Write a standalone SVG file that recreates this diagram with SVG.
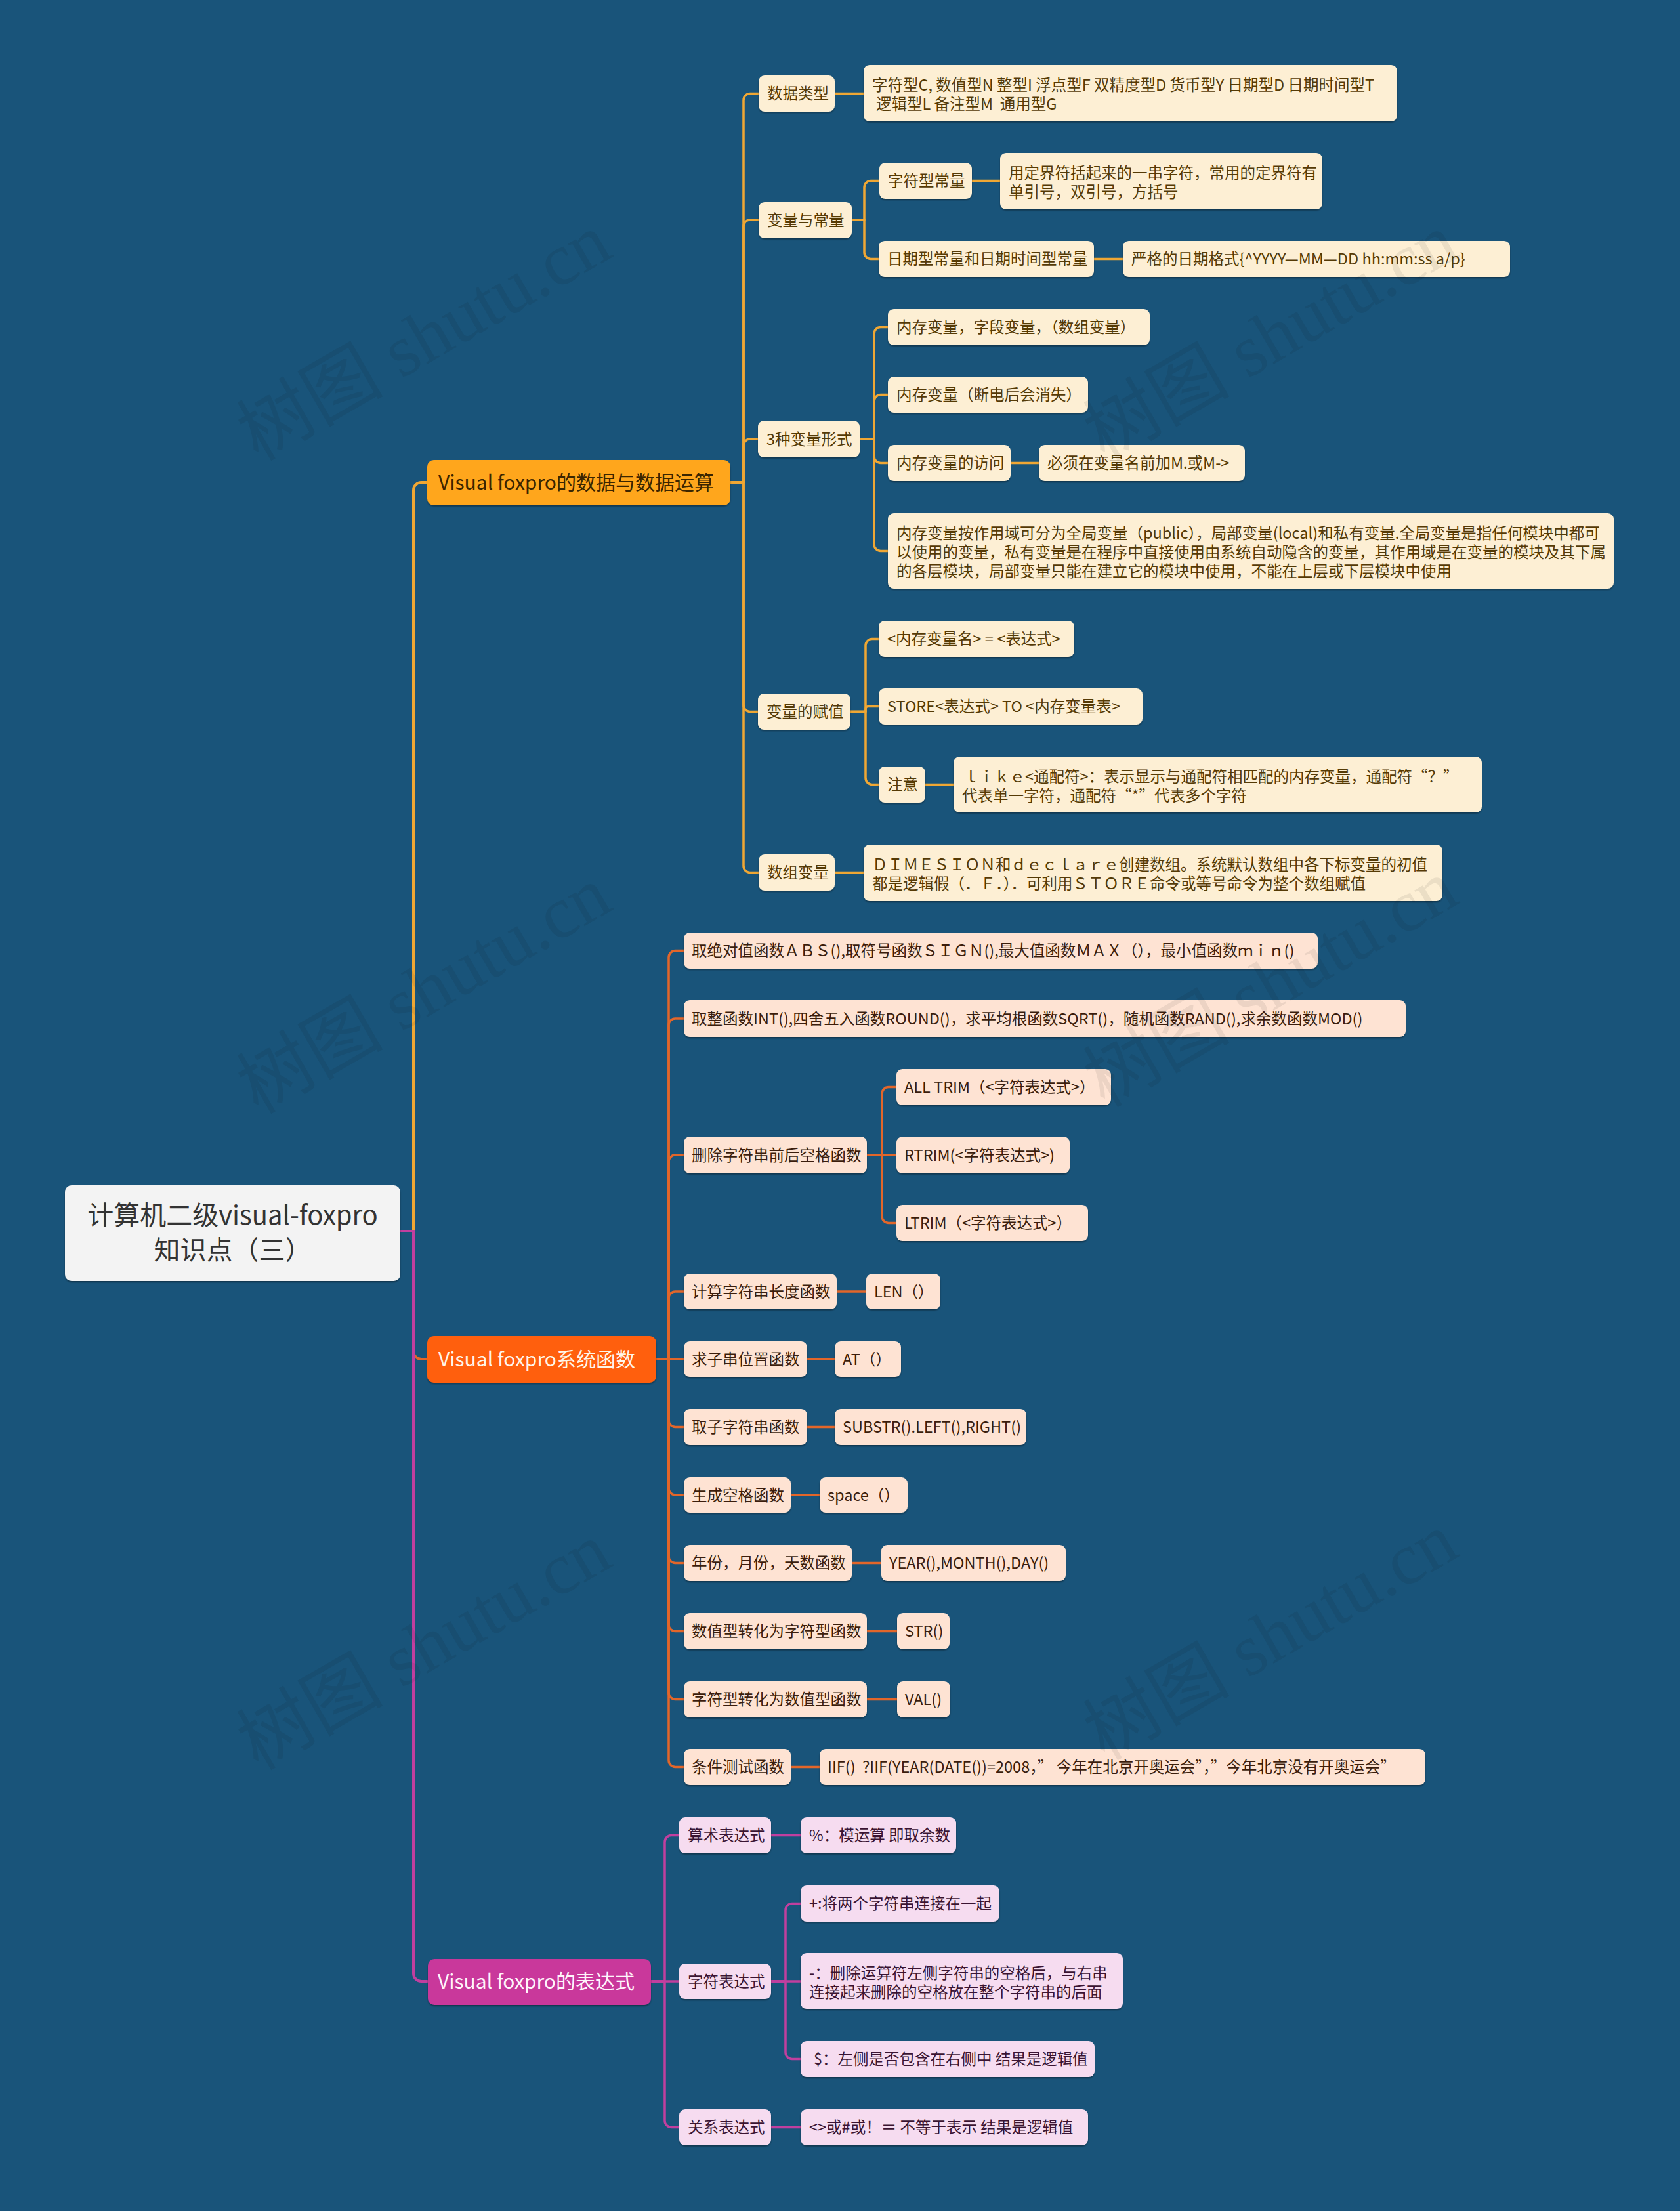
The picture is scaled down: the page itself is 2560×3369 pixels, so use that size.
<svg xmlns="http://www.w3.org/2000/svg" width="2560" height="3369" viewBox="0 0 2560 3369">
<defs>
<filter id="sh" x="-5%" y="-20%" width="110%" height="150%"><feDropShadow dx="0" dy="2" stdDeviation="1.2" flood-color="#000" flood-opacity="0.35"/></filter>
</defs>
<style>
text{font-family:"Noto Sans CJK SC","Liberation Sans",sans-serif}
.t{font-size:23.5px}
.ta{fill:#553a05}.tb{fill:#3b1d0c}.tc{fill:#3a1432}
.ra{fill:#FDEFD4}.rb{fill:#FEE3D3}.rc{fill:#F6DCF0}
rect{filter:url(#sh)}
.ln{fill:none;stroke-width:3.5;stroke-linecap:round;stroke-linejoin:round}
.l1{fill:none;stroke-width:4;stroke-linecap:round}
.la{stroke:#EFA734}.lb{stroke:#E2662A}.lc{stroke:#C13F9F}
.wm{font-family:"Liberation Serif","Noto Sans CJK SC",serif;font-size:112px;fill:#141414;fill-opacity:0.075}
</style>
<rect x="0" y="0" width="2560" height="3369" fill="#19547A" style="filter:none"/>
<g id="connectors">
<path class="l1 la" d="M610 1876 H630 V747 A12 12 0 0 1 642 735 H651"/>
<path class="l1 lb" d="M610 1876 H630 V2059 A12 12 0 0 0 642 2071 H651"/>
<path class="l1 lc" d="M610 1876 H630 V3007 A12 12 0 0 0 642 3019 H651"/>
<g class="ln la">
<path d="M1113 735 H1133 V152.5 A10 10 0 0 1 1143 142.5 H1156"/>
<path d="M1113 735 H1133 V345 A10 10 0 0 1 1143 335 H1156"/>
<path d="M1113 735 H1133 V679 A10 10 0 0 1 1143 669 H1155"/>
<path d="M1113 735 H1133 V1074.5 A10 10 0 0 0 1143 1084.5 H1155"/>
<path d="M1113 735 H1133 V1319.5 A10 10 0 0 0 1143 1329.5 H1156"/>
<path d="M1272 142.5 H1316"/>
<path d="M1298 335 H1317 V285.5 A10 10 0 0 1 1327 275.5 H1340"/>
<path d="M1298 335 H1317 V384.5 A10 10 0 0 0 1327 394.5 H1339"/>
<path d="M1481 275.5 H1524"/>
<path d="M1667 394.5 H1711"/>
<path d="M1310 669 H1332 V508.5 A10 10 0 0 1 1342 498.5 H1353"/>
<path d="M1310 669 H1332 V611.5 A10 10 0 0 1 1342 601.5 H1353"/>
<path d="M1310 669 H1332 V695.5 A10 10 0 0 0 1342 705.5 H1353"/>
<path d="M1310 669 H1332 V829.5 A10 10 0 0 0 1342 839.5 H1353"/>
<path d="M1540 705.5 H1583"/>
<path d="M1296 1084.5 H1319 V983.5 A10 10 0 0 1 1329 973.5 H1339"/>
<path d="M1296 1084.5 H1319 V1080.5 A4 4 0 0 1 1323 1076.5 H1339"/>
<path d="M1296 1084.5 H1319 V1185.5 A10 10 0 0 0 1329 1195.5 H1339"/>
<path d="M1410 1195.5 H1453"/>
<path d="M1272 1329.5 H1316"/>
</g>
<g class="ln lb">
<path d="M1000 2071 H1019 V1458.5 A10 10 0 0 1 1029 1448.5 H1042"/>
<path d="M1000 2071 H1019 V1562 A10 10 0 0 1 1029 1552 H1042"/>
<path d="M1000 2071 H1019 V1770 A10 10 0 0 1 1029 1760 H1042"/>
<path d="M1000 2071 H1019 V1978 A10 10 0 0 1 1029 1968 H1042"/>
<path d="M1000 2071 H1042"/>
<path d="M1000 2071 H1019 V2164.5 A10 10 0 0 0 1029 2174.5 H1042"/>
<path d="M1000 2071 H1019 V2268 A10 10 0 0 0 1029 2278 H1042"/>
<path d="M1000 2071 H1019 V2371.5 A10 10 0 0 0 1029 2381.5 H1042"/>
<path d="M1000 2071 H1019 V2475.5 A10 10 0 0 0 1029 2485.5 H1042"/>
<path d="M1000 2071 H1019 V2579.5 A10 10 0 0 0 1029 2589.5 H1042"/>
<path d="M1000 2071 H1019 V2682.5 A10 10 0 0 0 1029 2692.5 H1042"/>
<path d="M1321 1760 H1344 V1666.5 A10 10 0 0 1 1354 1656.5 H1366"/>
<path d="M1321 1760 H1366"/>
<path d="M1321 1760 H1344 V1853.5 A10 10 0 0 0 1354 1863.5 H1366"/>
<path d="M1275 1968 H1320"/>
<path d="M1230 2071 H1272"/>
<path d="M1230 2174.5 H1272"/>
<path d="M1205 2278 H1249"/>
<path d="M1298 2381.5 H1343"/>
<path d="M1321 2485.5 H1367"/>
<path d="M1321 2589.5 H1367"/>
<path d="M1205 2692.5 H1249"/>
</g>
<g class="ln lc">
<path d="M992 3019 H1013 V2806.5 A10 10 0 0 1 1023 2796.5 H1035"/>
<path d="M992 3019 H1035"/>
<path d="M992 3019 H1013 V3231.5 A10 10 0 0 0 1023 3241.5 H1035"/>
<path d="M1175 3019 H1197 V2910.5 A10 10 0 0 1 1207 2900.5 H1220"/>
<path d="M1175 3019 H1220"/>
<path d="M1175 3019 H1197 V3127.5 A10 10 0 0 0 1207 3137.5 H1220"/>
<path d="M1175 2796.5 H1220"/>
<path d="M1175 3241.5 H1220"/>
</g>
</g>
<g id="nodes">
<g id="root"><rect x="99" y="1806" width="511" height="146" rx="10" fill="#F3F3F3"/><text x="354.5" y="1866" font-size="40" fill="#333" text-anchor="middle">计算机二级visual-foxpro</text><text x="354.5" y="1919" font-size="40" fill="#333" text-anchor="middle">知识点（三）</text></g>
<g id="n1"><rect x="651" y="701" width="462" height="69" rx="10" fill="#FFA61C"/><text x="668" y="746" font-size="30" fill="#3b2500">Visual foxpro的数据与数据运算</text></g>
<g id="n2"><rect x="651" y="2036" width="349" height="71" rx="10" fill="#FF5E0A"/><text x="668" y="2082" font-size="30" fill="#FFF5E8">Visual foxpro系统函数</text></g>
<g id="n3"><rect x="652" y="2985" width="340" height="70" rx="10" fill="#C9389B"/><text x="667" y="3030" font-size="30" fill="#FFF5FB">Visual foxpro的表达式</text></g>

<g id="a1"><rect class="ra" x="1156" y="115" width="116" height="55" rx="9"/><text class="t ta" x="1169" y="151">数据类型</text></g>
<g id="a1-1"><rect class="ra" x="1316" y="99" width="813" height="86" rx="9"/><text class="t ta" x="1329" y="138">字符型C, 数值型N 整型I 浮点型F 双精度型D 货币型Y 日期型D 日期时间型T</text><text class="t ta" x="1335" y="167" xml:space="preserve">逻辑型L 备注型M  通用型G</text></g>
<g id="a2"><rect class="ra" x="1156" y="308" width="142" height="55" rx="9"/><text class="t ta" x="1169" y="343.5">变量与常量</text></g>
<g id="a2-1"><rect class="ra" x="1340" y="248" width="141" height="55" rx="9"/><text class="t ta" x="1353" y="284">字符型常量</text></g>
<g id="a2-1-1"><rect class="ra" x="1524" y="233" width="491" height="86" rx="9"/><text class="t ta" x="1537" y="271.5">用定界符括起来的一串字符，常用的定界符有</text><text class="t ta" x="1537" y="301">单引号，双引号，方括号</text></g>
<g id="a2-2"><rect class="ra" x="1339" y="367" width="328" height="55" rx="9"/><text class="t ta" x="1352" y="403">日期型常量和日期时间型常量</text></g>
<g id="a2-2-1"><rect class="ra" x="1711" y="367" width="590" height="55" rx="9"/><text class="t ta" x="1724" y="403">严格的日期格式{^YYYY—MM—DD hh:mm:ss a/p}</text></g>
<g id="a3"><rect class="ra" x="1155" y="641" width="155" height="56" rx="9"/><text class="t ta" x="1168" y="677.5">3种变量形式</text></g>
<g id="a3-1"><rect class="ra" x="1353" y="471" width="399" height="55" rx="9"/><text class="t ta" x="1366" y="507">内存变量，字段变量，（数组变量）</text></g>
<g id="a3-2"><rect class="ra" x="1353" y="574" width="305" height="55" rx="9"/><text class="t ta" x="1366" y="610">内存变量（断电后会消失）</text></g>
<g id="a3-3"><rect class="ra" x="1353" y="678" width="187" height="55" rx="9"/><text class="t ta" x="1366" y="714">内存变量的访问</text></g>
<g id="a3-3-1"><rect class="ra" x="1583" y="678" width="314" height="55" rx="9"/><text class="t ta" x="1596" y="714">必须在变量名前加M.或M-&gt;</text></g>
<g id="a3-4"><rect class="ra" x="1353" y="782" width="1106" height="115" rx="9"/><text class="t ta" x="1366" y="820.5">内存变量按作用域可分为全局变量（public），局部变量(local)和私有变量.全局变量是指任何模块中都可</text><text class="t ta" x="1366" y="850">以使用的变量，私有变量是在程序中直接使用由系统自动隐含的变量，其作用域是在变量的模块及其下属</text><text class="t ta" x="1366" y="879">的各层模块，局部变量只能在建立它的模块中使用，不能在上层或下层模块中使用</text></g>
<g id="a4"><rect class="ra" x="1155" y="1057" width="141" height="55" rx="9"/><text class="t ta" x="1168" y="1093">变量的赋值</text></g>
<g id="a4-1"><rect class="ra" x="1339" y="946" width="298" height="55" rx="9"/><text class="t ta" x="1352" y="982" xml:space="preserve">&lt;内存变量名&gt; = &lt;表达式&gt;</text></g>
<g id="a4-2"><rect class="ra" x="1339" y="1049" width="402" height="55" rx="9"/><text class="t ta" x="1352" y="1085">STORE&lt;表达式&gt; TO &lt;内存变量表&gt;</text></g>
<g id="a4-3"><rect class="ra" x="1339" y="1168" width="71" height="55" rx="9"/><text class="t ta" x="1352" y="1204">注意</text></g>
<g id="a4-3-1"><rect class="ra" x="1453" y="1153" width="805" height="85" rx="9"/><text class="t ta" x="1468" y="1191.5">ｌｉｋｅ&lt;通配符&gt;：表示显示与通配符相匹配的内存变量，通配符“？”</text><text class="t ta" x="1466" y="1221">代表单一字符，通配符“*”代表多个字符</text></g>
<g id="a5"><rect class="ra" x="1156" y="1302" width="116" height="55" rx="9"/><text class="t ta" x="1169" y="1338">数组变量</text></g>
<g id="a5-1"><rect class="ra" x="1316" y="1287" width="882" height="86" rx="9"/><text class="t ta" x="1329" y="1325.5">ＤＩＭＥＳＩＯＮ和ｄｅｃｌａｒｅ创建数组。系统默认数组中各下标变量的初值</text><text class="t ta" x="1329" y="1355">都是逻辑假（．Ｆ．）．可利用ＳＴＯＲＥ命令或等号命令为整个数组赋值</text></g>

<g id="b1"><rect class="rb" x="1042" y="1421" width="966" height="55" rx="9"/><text class="t tb" x="1054" y="1457">取绝对值函数ＡＢＳ(),取符号函数ＳＩＧＮ(),最大值函数ＭＡＸ（），最小值函数ｍｉｎ()</text></g>
<g id="b2"><rect class="rb" x="1042" y="1524" width="1100" height="56" rx="9"/><text class="t tb" x="1054" y="1560.5">取整函数INT(),四舍五入函数ROUND()，求平均根函数SQRT()，随机函数RAND(),求余数函数MOD()</text></g>
<g id="b3"><rect class="rb" x="1042" y="1732" width="279" height="56" rx="9"/><text class="t tb" x="1054" y="1768.5">删除字符串前后空格函数</text></g>
<g id="b3-1"><rect class="rb" x="1366" y="1629" width="327" height="55" rx="9"/><text class="t tb" x="1378" y="1665">ALL TRIM（&lt;字符表达式&gt;）</text></g>
<g id="b3-2"><rect class="rb" x="1366" y="1732" width="264" height="56" rx="9"/><text class="t tb" x="1378" y="1768.5">RTRIM(&lt;字符表达式&gt;)</text></g>
<g id="b3-3"><rect class="rb" x="1366" y="1836" width="292" height="55" rx="9"/><text class="t tb" x="1378" y="1872">LTRIM（&lt;字符表达式&gt;）</text></g>
<g id="b4"><rect class="rb" x="1042" y="1941" width="233" height="54" rx="9"/><text class="t tb" x="1054" y="1976.5">计算字符串长度函数</text></g>
<g id="b4-1"><rect class="rb" x="1320" y="1941" width="113" height="54" rx="9"/><text class="t tb" x="1332" y="1976.5">LEN（）</text></g>
<g id="b5"><rect class="rb" x="1042" y="2044" width="188" height="54" rx="9"/><text class="t tb" x="1054" y="2079.5">求子串位置函数</text></g>
<g id="b5-1"><rect class="rb" x="1272" y="2044" width="101" height="54" rx="9"/><text class="t tb" x="1284" y="2079.5">AT（）</text></g>
<g id="b6"><rect class="rb" x="1042" y="2147" width="188" height="55" rx="9"/><text class="t tb" x="1054" y="2183">取子字符串函数</text></g>
<g id="b6-1"><rect class="rb" x="1272" y="2147" width="292" height="55" rx="9"/><text class="t tb" x="1284" y="2183">SUBSTR().LEFT(),RIGHT()</text></g>
<g id="b7"><rect class="rb" x="1042" y="2251" width="163" height="54" rx="9"/><text class="t tb" x="1054" y="2286.5">生成空格函数</text></g>
<g id="b7-1"><rect class="rb" x="1249" y="2251" width="134" height="54" rx="9"/><text class="t tb" x="1261" y="2286.5">space（）</text></g>
<g id="b8"><rect class="rb" x="1042" y="2354" width="256" height="55" rx="9"/><text class="t tb" x="1054" y="2390">年份，月份，天数函数</text></g>
<g id="b8-1"><rect class="rb" x="1343" y="2354" width="281" height="55" rx="9"/><text class="t tb" x="1355" y="2390">YEAR(),MONTH(),DAY()</text></g>
<g id="b9"><rect class="rb" x="1042" y="2458" width="279" height="55" rx="9"/><text class="t tb" x="1054" y="2494">数值型转化为字符型函数</text></g>
<g id="b9-1"><rect class="rb" x="1367" y="2458" width="80" height="55" rx="9"/><text class="t tb" x="1379" y="2494">STR()</text></g>
<g id="b10"><rect class="rb" x="1042" y="2562" width="279" height="55" rx="9"/><text class="t tb" x="1054" y="2598">字符型转化为数值型函数</text></g>
<g id="b10-1"><rect class="rb" x="1367" y="2562" width="81" height="55" rx="9"/><text class="t tb" x="1379" y="2598">VAL()</text></g>
<g id="b11"><rect class="rb" x="1042" y="2665" width="163" height="55" rx="9"/><text class="t tb" x="1054" y="2701">条件测试函数</text></g>
<g id="b11-1"><rect class="rb" x="1249" y="2665" width="923" height="55" rx="9"/><text class="t tb" x="1261" y="2701" xml:space="preserve">IIF()  ?IIF(YEAR(DATE())=2008，” 今年在北京开奥运会”，”今年北京没有开奥运会”</text></g>

<g id="c1"><rect class="rc" x="1035" y="2769" width="140" height="55" rx="9"/><text class="t tc" x="1048" y="2805">算术表达式</text></g>
<g id="c1-1"><rect class="rc" x="1220" y="2769" width="237" height="55" rx="9"/><text class="t tc" x="1233" y="2805">%：模运算 即取余数</text></g>
<g id="c2"><rect class="rc" x="1035" y="2992" width="140" height="54" rx="9"/><text class="t tc" x="1048" y="3027.5">字符表达式</text></g>
<g id="c2-1"><rect class="rc" x="1220" y="2873" width="303" height="55" rx="9"/><text class="t tc" x="1233" y="2909">+:将两个字符串连接在一起</text></g>
<g id="c2-2"><rect class="rc" x="1220" y="2976" width="491" height="85" rx="9"/><text class="t tc" x="1233" y="3014.5">-：删除运算符左侧字符串的空格后，与右串</text><text class="t tc" x="1233" y="3044">连接起来删除的空格放在整个字符串的后面</text></g>
<g id="c2-3"><rect class="rc" x="1220" y="3110" width="448" height="55" rx="9"/><text class="t tc" x="1240" y="3146">$：左侧是否包含在右侧中 结果是逻辑值</text></g>
<g id="c3"><rect class="rc" x="1035" y="3214" width="140" height="55" rx="9"/><text class="t tc" x="1048" y="3250">关系表达式</text></g>
<g id="c3-1"><rect class="rc" x="1220" y="3214" width="438" height="55" rx="9"/><text class="t tc" x="1233" y="3250">&lt;&gt;或#或！＝ 不等于表示 结果是逻辑值</text></g>
</g>
<g id="watermark">
<text class="wm" x="645" y="552" text-anchor="middle" transform="rotate(-30 645 512)">树图 shutu.cn</text>
<text class="wm" x="1935" y="552" text-anchor="middle" transform="rotate(-30 1935 512)">树图 shutu.cn</text>
<text class="wm" x="645" y="1547" text-anchor="middle" transform="rotate(-30 645 1507)">树图 shutu.cn</text>
<text class="wm" x="1935" y="1537" text-anchor="middle" transform="rotate(-30 1935 1497)">树图 shutu.cn</text>
<text class="wm" x="645" y="2547" text-anchor="middle" transform="rotate(-30 645 2507)">树图 shutu.cn</text>
<text class="wm" x="1935" y="2532" text-anchor="middle" transform="rotate(-30 1935 2492)">树图 shutu.cn</text>
</g>
</svg>
